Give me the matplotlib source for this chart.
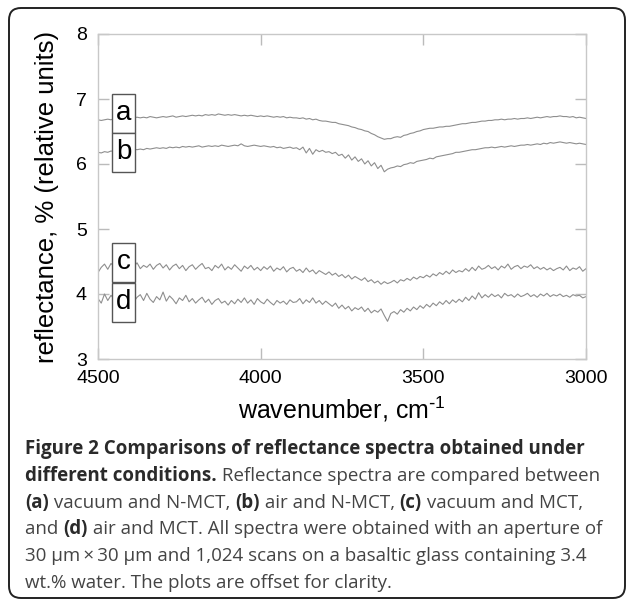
import numpy as np
import matplotlib
matplotlib.use("Agg")
import matplotlib.pyplot as plt
from matplotlib.patches import FancyBboxPatch, Rectangle

plt.rcParams["font.family"] = ["Liberation Sans", "DejaVu Sans"]
plt.rcParams["mathtext.default"] = "regular"

# wavenumber grid, 4500 -> 3000 cm-1 every 10 cm-1
wavenumber = np.linspace(4500, 3000, 151)

# (a) vacuum / N-MCT
spec_a = [6.68, 6.67, 6.68, 6.69, 6.68, 6.70, 6.69, 6.71, 6.70, 6.71, 6.70,
          6.71, 6.72, 6.71, 6.72, 6.71, 6.73, 6.72, 6.71, 6.72, 6.73,
          6.72, 6.73, 6.74, 6.72, 6.73, 6.74, 6.73, 6.74, 6.75, 6.74,
          6.75, 6.74, 6.76, 6.75, 6.76, 6.75, 6.77, 6.76, 6.75, 6.76,
          6.75, 6.76, 6.75, 6.74, 6.75, 6.74, 6.75, 6.74, 6.73, 6.74,
          6.73, 6.74, 6.73, 6.72, 6.73, 6.72, 6.73, 6.71, 6.72, 6.71,
          6.71, 6.70, 6.71, 6.69, 6.70, 6.68, 6.69, 6.67, 6.66, 6.66,
          6.65, 6.64, 6.64, 6.62, 6.61, 6.60, 6.59, 6.57, 6.56, 6.54,
          6.53, 6.51, 6.50, 6.47, 6.45, 6.42, 6.40, 6.38, 6.39, 6.39,
          6.41, 6.42, 6.41, 6.44, 6.45, 6.47, 6.48, 6.50, 6.51, 6.53,
          6.54, 6.55, 6.55, 6.56, 6.57, 6.57, 6.58, 6.58, 6.59, 6.60,
          6.61, 6.62, 6.62, 6.63, 6.64, 6.64, 6.65, 6.66, 6.66, 6.67,
          6.67, 6.68, 6.68, 6.69, 6.68, 6.69, 6.69, 6.70, 6.69, 6.70,
          6.70, 6.71, 6.70, 6.71, 6.72, 6.71, 6.72, 6.73, 6.72, 6.73,
          6.73, 6.74, 6.73, 6.73, 6.72, 6.73, 6.71, 6.72, 6.71, 6.70]

# (b) air / N-MCT
spec_b = [6.18, 6.17, 6.19, 6.18, 6.20, 6.19, 6.21, 6.20, 6.22, 6.21, 6.22,
          6.23, 6.22, 6.23, 6.22, 6.24, 6.23, 6.24, 6.25, 6.24, 6.25,
          6.24, 6.26, 6.25, 6.26, 6.25, 6.27, 6.26, 6.27, 6.26, 6.27,
          6.28, 6.26, 6.27, 6.28, 6.27, 6.28, 6.27, 6.29, 6.28, 6.27,
          6.28, 6.29, 6.28, 6.31, 6.28, 6.27, 6.28, 6.29, 6.28, 6.27,
          6.28, 6.27, 6.26, 6.27, 6.25, 6.26, 6.24, 6.25, 6.26, 6.24,
          6.25, 6.22, 6.26, 6.17, 6.24, 6.15, 6.22, 6.19, 6.21, 6.18,
          6.19, 6.16, 6.18, 6.13, 6.15, 6.09, 6.14, 6.06, 6.11, 6.04,
          6.08, 6.00, 6.05, 5.97, 6.02, 5.93, 5.98, 5.88, 5.92, 5.94,
          5.95, 5.97, 5.96, 5.99, 6.00, 6.02, 6.01, 6.04, 6.05, 6.06,
          6.07, 6.09, 6.08, 6.11, 6.12, 6.13, 6.14, 6.15, 6.16, 6.18,
          6.18, 6.19, 6.20, 6.21, 6.22, 6.22, 6.23, 6.24, 6.25, 6.25,
          6.26, 6.25, 6.26, 6.27, 6.26, 6.27, 6.28, 6.27, 6.28, 6.29,
          6.29, 6.30, 6.29, 6.30, 6.31, 6.30, 6.32, 6.31, 6.33, 6.32,
          6.33, 6.34, 6.33, 6.32, 6.33, 6.32, 6.31, 6.32, 6.31, 6.30]

# (c) vacuum / MCT
spec_c = [4.33, 4.41, 4.46, 4.38, 4.47, 4.42, 4.48, 4.40, 4.45, 4.43, 4.47,
          4.42, 4.48, 4.39, 4.44, 4.41, 4.46, 4.38, 4.44, 4.47, 4.40,
          4.45, 4.37, 4.43, 4.46, 4.39, 4.44, 4.36, 4.42, 4.45, 4.38,
          4.43, 4.47, 4.39, 4.41, 4.36, 4.44, 4.40, 4.46, 4.37, 4.42,
          4.38, 4.45, 4.40, 4.35, 4.43, 4.39, 4.44, 4.37, 4.41, 4.36,
          4.42, 4.38, 4.43, 4.35, 4.40, 4.37, 4.42, 4.34, 4.39, 4.41,
          4.35, 4.38, 4.33, 4.40, 4.34, 4.37, 4.31, 4.36, 4.33, 4.30,
          4.34, 4.29, 4.32, 4.27, 4.30, 4.25, 4.29, 4.23, 4.27, 4.24,
          4.21, 4.25, 4.19, 4.22, 4.17, 4.20, 4.15, 4.19, 4.16, 4.18,
          4.21, 4.17, 4.22, 4.20, 4.24, 4.21, 4.26, 4.23, 4.27, 4.25,
          4.29, 4.26, 4.31, 4.28, 4.33, 4.30, 4.35, 4.31, 4.37, 4.33,
          4.36, 4.34, 4.39, 4.35, 4.41, 4.36, 4.43, 4.38, 4.40, 4.44,
          4.39, 4.42, 4.37, 4.43, 4.40, 4.46, 4.38, 4.42, 4.44, 4.39,
          4.43, 4.41, 4.45, 4.39, 4.42, 4.38, 4.41, 4.37, 4.40, 4.36,
          4.39, 4.41, 4.37, 4.43, 4.36, 4.40, 4.38, 4.42, 4.35, 4.39]

# (d) air / MCT
spec_d = [3.93, 3.86, 4.00, 3.90, 3.98, 3.92, 4.01, 3.89, 3.96, 3.93, 4.02,
          3.88, 3.95, 3.99, 3.90, 4.01, 3.92, 3.87, 3.96, 3.91, 4.03,
          3.89, 3.97, 3.92, 3.85, 3.94, 3.90, 3.98, 3.88, 3.93, 3.86,
          3.91, 3.95, 3.87, 3.92, 3.84, 3.90, 3.93, 3.86, 3.89, 3.83,
          3.90, 3.85, 3.92, 3.87, 3.94, 3.86, 3.91, 3.84, 3.93, 3.88,
          3.85, 3.92, 3.87, 3.83, 3.90, 3.86, 3.89, 3.84, 3.91, 3.87,
          3.88, 3.93, 3.85, 3.91, 3.87, 3.94, 3.86, 3.90, 3.84, 3.89,
          3.85, 3.81, 3.86, 3.78, 3.83, 3.77, 3.81, 3.74, 3.79, 3.76,
          3.80, 3.73, 3.78, 3.71, 3.75, 3.72, 3.77, 3.67, 3.58, 3.70,
          3.73, 3.69, 3.76, 3.72, 3.78, 3.74, 3.80, 3.76, 3.82, 3.78,
          3.84, 3.80, 3.86, 3.82, 3.88, 3.84, 3.90, 3.85, 3.91, 3.87,
          3.92, 3.88, 3.95, 3.90, 3.97, 3.92, 4.02, 3.94, 3.99, 3.95,
          4.00, 3.96, 3.99, 3.94, 4.01, 3.97, 3.99, 3.95, 4.00, 3.96,
          3.98, 4.01, 3.96, 3.99, 3.95, 4.00, 3.97, 4.01, 3.96, 3.99,
          3.97, 4.00, 3.96, 3.98, 3.95, 3.99, 3.97, 3.98, 3.94, 3.96]

labels = ["a", "b", "c", "d"]
# label box vertical extents (data units), box spans 4457..4386 cm-1
label_boxes = [(6.48, 7.08), (5.88, 6.48), (4.19, 4.79), (3.57, 4.17)]

W, H = 627, 602
fig = plt.figure(figsize=(W / 100, H / 100), dpi=100)
fig.patches.append(FancyBboxPatch((9, 4), 616, H - 12, boxstyle="round,pad=0,rounding_size=12",
                                  transform=None, fc="none", ec="#222222", lw=1.4))

ax = fig.add_axes([98 / W, 1 - 359 / H, 488 / W, 325 / H])
for s in (spec_a, spec_b, spec_c, spec_d):
    ax.plot(wavenumber, s, color="#8e8e8e", lw=0.8)
for lab, (y0, y1) in zip(labels, label_boxes):
    ax.add_patch(Rectangle((4457, y0), -71, y1 - y0, fc="white", ec="#555555", lw=1.0, zorder=5))
    ax.text(4421.5, (y0 + y1) / 2, lab, ha="center", va="center", fontsize=20, zorder=6)

ax.set_xlim(4500, 3000)
ax.set_ylim(3, 8)
ax.set_xticks([4500, 4000, 3500, 3000])
ax.set_yticks([3, 4, 5, 6, 7, 8])
ax.tick_params(direction="in", length=8, width=1, color="#bbbbbb", labelsize=14,
               top=True, right=True, pad=8)
for sp in ax.spines.values():
    sp.set_color("#c8c8c8")
    sp.set_linewidth(1.0)

fig.text(47 / W, 1 - 197 / H, "reflectance, % (relative units)", rotation=90,
         ha="center", va="center", fontsize=18.5)
fig.text(342 / W, 1 - 409 / H, r"wavenumber, cm$^{\text{-}1}$", ha="center", va="center",
         fontsize=18)

# caption, mixed bold / regular runs
caption = [
    [("Figure 2 Comparisons of reflectance spectra obtained under", True)],
    [("different conditions.", True), (" Reflectance spectra are compared between", False)],
    [("(a)", True), (" vacuum and N-MCT, ", False), ("(b)", True), (" air and N-MCT, ", False),
     ("(c)", True), (" vacuum and MCT,", False)],
    [("and ", False), ("(d)", True), (" air and MCT. All spectra were obtained with an aperture of", False)],
    [("30 \u03bcm\u2009\u00d7\u200930 \u03bcm and 1,024 scans on a basaltic glass containing 3.4", False)],
    [("wt.% water. The plots are offset for clarity.", False)],
]
renderer = fig.canvas.get_renderer()
for k, line in enumerate(caption):
    x = 25
    y = 449 + k * 26.8
    for txt, bold in line:
        t = fig.text(x / W, 1 - y / H, txt, ha="left", va="center", fontsize=13.5,
                     family=["Open Sans", "DejaVu Sans"],
                     fontweight="bold" if bold else "normal",
                     color="#2a2a2a" if bold else "#444444")
        x += t.get_window_extent(renderer).width

fig.savefig("out.png", dpi=100)
